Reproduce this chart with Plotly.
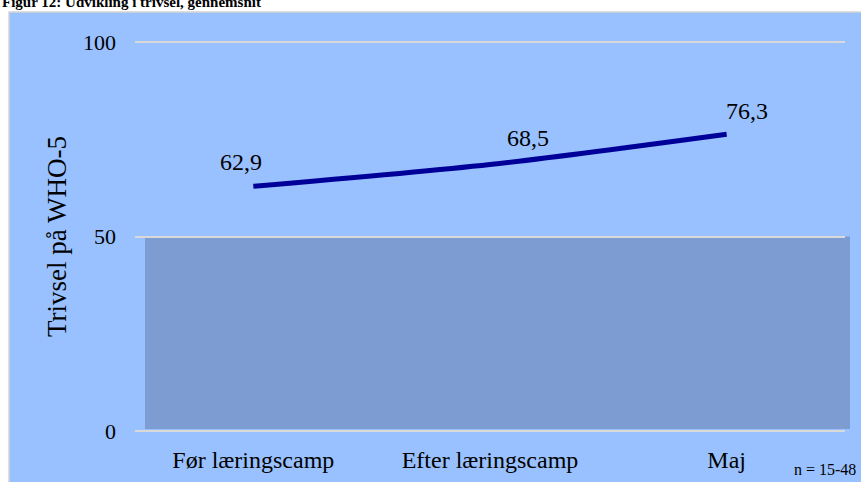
import plotly.graph_objects as go

# data
categories = ["Før læringscamp", "Efter læringscamp", "Maj"]
trivsel = [62.9, 68.5, 76.3]
value_labels = ["62,9", "68,5", "76,3"]
y_ticks = [0, 50, 100]
band_top = 50  # shaded area 0-50 (lav trivsel)

W, H = 861, 482
# y axis: 0 at px 431, 100 at px 42; small padding so edge gridlines show
Y0_PX, Y100_PX, PAD = 431, 42, 0.5
scale = (Y0_PX - Y100_PX) / 100
ML, MR = 135, 16
MT = Y100_PX - PAD * scale
MB = H - (Y0_PX + PAD * scale)
PW, PH = W - ML - MR, H - MT - MB


def px_x(px):
    return (px - ML) / PW


def px_y(py):
    return (H - MB - py) / PH


serif = "Liberation Serif, Times New Roman, serif"

fig = go.Figure()

fig.add_trace(go.Scatter(
    x=categories, y=trivsel, mode="lines",
    line=dict(color="#000099", width=5, shape="spline", smoothing=0.8),
    hoverinfo="x+y", showlegend=False,
))

# value labels (offsets in px, like the Excel labels)
offsets = [(-12, 24), (38, 27), (20, 23)]
for cat, val, lab, (dx, dy) in zip(categories, trivsel, value_labels, offsets):
    fig.add_annotation(x=cat, y=val, text=lab, showarrow=False,
                       xshift=dx, yshift=dy,
                       font=dict(family=serif, size=24, color="black"))

# chart area background + border (only top/left edges fall inside the page)
fig.add_shape(type="rect", xref="paper", yref="paper",
              x0=px_x(9), x1=px_x(W + 6), y0=px_y(H + 6), y1=px_y(12),
              fillcolor="#99C0FF", line=dict(color="#D4D4D4", width=1.5),
              layer="below")

# band 0-50
fig.add_shape(type="rect", xref="paper", yref="y",
              x0=px_x(145), x1=px_x(850), y0=0.5, y1=band_top,
              fillcolor="#7D9DD2", line=dict(width=0), layer="below")

# title, cut off at the top like in the report
fig.add_annotation(xref="paper", yref="paper", x=px_x(0), y=px_y(2),
                   xanchor="left", yanchor="middle", showarrow=False,
                   text="<b>Figur 12: Udvikling i trivsel, gennemsnit</b>",
                   font=dict(family=serif, size=15, color="black"))

fig.add_annotation(xref="paper", yref="paper", x=px_x(858), y=px_y(469),
                   xanchor="right", yanchor="middle", showarrow=False,
                   text="n = 15-48",
                   font=dict(family=serif, size=16, color="black"))

fig.update_layout(
    width=W, height=H,
    margin=dict(l=ML, r=MR, t=MT, b=MB),
    paper_bgcolor="white",
    plot_bgcolor="rgba(0,0,0,0)",
    font=dict(family=serif, color="black"),
)
fig.update_xaxes(range=[-0.5, 2.5], showgrid=False, zeroline=False,
                 showline=False, ticks="", ticklabelstandoff=10,
                 automargin=False,
                 tickfont=dict(family=serif, size=24))
fig.update_yaxes(range=[-PAD, 100 + PAD], tickvals=y_ticks, showgrid=True,
                 gridcolor="#D9D9D9", gridwidth=1.5, zeroline=False,
                 showline=False, ticks="", ticklabelstandoff=18,
                 automargin=False,
                 tickfont=dict(family=serif, size=22),
                 title=dict(text="Trivsel på WHO-5", standoff=8,
                            font=dict(family=serif, size=27)))

# drop the default 8px body margin so the figure fills the window exactly
fig.write_html("out.html", config={"displayModeBar": False},
               post_script="document.body.style.margin='0';"
                           "document.body.style.overflow='hidden';"
                           "document.documentElement.style.overflow='hidden';")
